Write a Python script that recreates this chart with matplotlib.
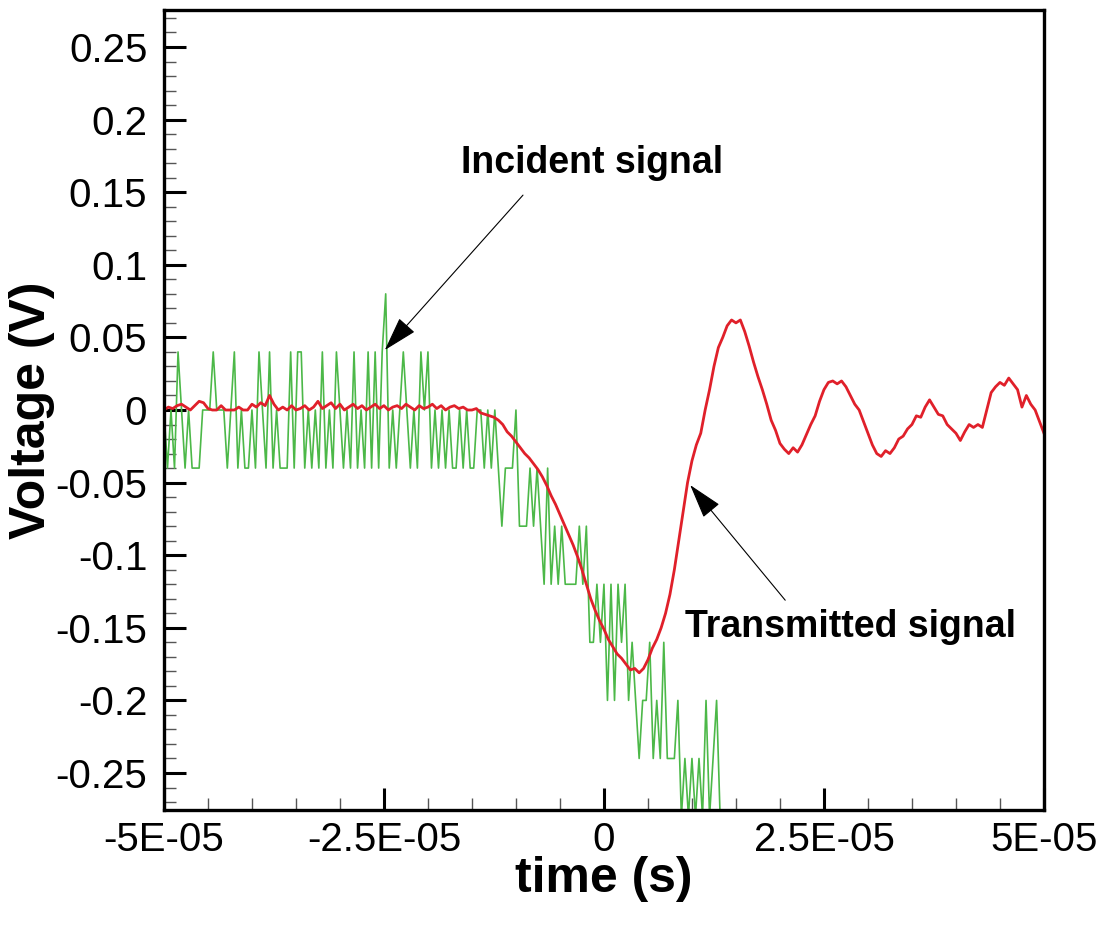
import numpy as np
import matplotlib
matplotlib.use("Agg")
from matplotlib import pyplot as plt
from matplotlib.ticker import MultipleLocator, FixedLocator, FixedFormatter

plt.rcParams['font.family'] = ['Liberation Sans', 'DejaVu Sans']
plt.rcParams['axes.unicode_minus'] = False

# transmitted signal, sampled every 0.5 us from -50 us
red_t0 = -50e-6
red_dt = 0.5e-6
transmitted = [
    0.000, 0.002, 0.001, 0.003, 0.004, 0.002, 0.000, 0.003, 0.006, 0.005,
    0.001, 0.000, 0.000, 0.003, 0.000, 0.000, 0.000, 0.002, 0.000, 0.000,
    0.004, 0.002, 0.005, 0.003, 0.010, 0.004, 0.000, 0.002, 0.000, 0.003,
    0.000, 0.001, 0.003, 0.000, 0.002, 0.006, 0.001, 0.003, 0.005, 0.001,
    0.004, 0.000, 0.002, 0.004, 0.001, 0.003, 0.000, 0.002, 0.004, 0.001,
    0.003, 0.000, 0.002, 0.003, 0.001, 0.004, 0.002, 0.000, 0.003, 0.001,
    0.002, 0.004, 0.001, 0.003, 0.000, 0.002, 0.003, 0.001, 0.002, 0.000,
    0.000, 0.001, -0.002, -0.003, -0.004, -0.005, -0.007, -0.010, -0.015, -0.018,
    -0.022, -0.026, -0.030, -0.033, -0.037, -0.041, -0.046, -0.052, -0.059, -0.065,
    -0.072, -0.079, -0.086, -0.093, -0.101, -0.110, -0.120, -0.130, -0.138, -0.145,
    -0.151, -0.158, -0.163, -0.168, -0.171, -0.175, -0.179, -0.178, -0.181, -0.178,
    -0.172, -0.164, -0.158, -0.150, -0.140, -0.127, -0.110, -0.090, -0.070, -0.050,
    -0.035, -0.024, -0.016, 0.000, 0.014, 0.030, 0.043, 0.050, 0.058, 0.062,
    0.060, 0.062, 0.054, 0.044, 0.033, 0.023, 0.014, 0.004, -0.007, -0.014,
    -0.023, -0.027, -0.030, -0.026, -0.029, -0.024, -0.017, -0.010, -0.004, 0.006,
    0.014, 0.019, 0.020, 0.018, 0.020, 0.016, 0.010, 0.004, 0.000, -0.008,
    -0.016, -0.024, -0.030, -0.032, -0.028, -0.030, -0.026, -0.020, -0.018, -0.013,
    -0.010, -0.004, -0.005, 0.002, 0.007, 0.002, -0.003, -0.004, -0.010, -0.013,
    -0.016, -0.021, -0.015, -0.010, -0.012, -0.010, -0.012, 0.000, 0.012, 0.016,
    0.019, 0.017, 0.022, 0.018, 0.014, 0.002, 0.010, 0.004, 0.000, -0.008,
    -0.016,
]

# incident signal (8-bit scope, 0.04 V steps), sampled every 0.4 us from -50 us
green_t0 = -50e-6
green_dt = 0.4e-6
incident = [
    0.0, -0.04, 0.0, -0.04, 0.04, 0.0, -0.04, 0.0, -0.04, -0.04,
    -0.04, 0.0, 0.0, 0.0, 0.04, 0.0, 0.0, 0.0, -0.04, 0.0,
    0.04, -0.04, 0.0, -0.04, -0.04, 0.0, -0.04, 0.04, 0.0, -0.04,
    0.04, -0.04, 0.0, -0.04, -0.04, -0.04, 0.04, -0.04, 0.04, 0.04,
    -0.04, 0.0, -0.04, 0.0, -0.04, 0.04, -0.04, 0.0, -0.04, 0.04,
    0.0, -0.04, 0.0, -0.04, 0.04, -0.04, 0.0, -0.04, 0.04, -0.04,
    0.04, -0.04, 0.04, 0.08, -0.04, 0.0, -0.04, 0.0, 0.04, 0.0,
    -0.04, 0.0, -0.04, 0.04, 0.0, 0.04, -0.04, 0.0, -0.04, 0.0,
    -0.04, 0.0, -0.04, -0.04, 0.0, -0.04, 0.0, -0.04, -0.04, 0.0,
    0.0, -0.04, 0.0, -0.04, 0.0, -0.04, -0.08, -0.04, -0.04, -0.04,
    0.0, -0.08, -0.08, -0.08, -0.04, -0.08, -0.04, -0.08, -0.12, -0.04,
    -0.12, -0.08, -0.12, -0.08, -0.12, -0.12, -0.12, -0.12, -0.08, -0.12,
    -0.08, -0.16, -0.16, -0.12, -0.16, -0.12, -0.2, -0.12, -0.2, -0.12,
    -0.16, -0.12, -0.2, -0.16, -0.2, -0.24, -0.2, -0.2, -0.16, -0.24,
    -0.2, -0.24, -0.16, -0.24, -0.24, -0.24, -0.2, -0.28, -0.24, -0.28,
    -0.24, -0.28, -0.24, -0.28, -0.2, -0.28, -0.24, -0.2, -0.28, -0.32,
    -0.28, -0.32, -0.32,
]

x_ticks = [-5e-5, -2.5e-5, 0, 2.5e-5, 5e-5]
x_tick_labels = ['-5E-05', '-2.5E-05', '0', '2.5E-05', '5E-05']
y_ticks = [0.25, 0.2, 0.15, 0.1, 0.05, 0, -0.05, -0.1, -0.15, -0.2, -0.25]
y_tick_labels = ['0.25', '0.2', '0.15', '0.1', '0.05', '0',
                 '-0.05', '-0.1', '-0.15', '-0.2', '-0.25']

t_red = red_t0 + red_dt * np.arange(len(transmitted))
t_green = green_t0 + green_dt * np.arange(len(incident))

fig = plt.figure(figsize=(11.1, 9.25), dpi=100)
ax = fig.add_axes([0.1477, 0.1243, 0.7928, 0.8649])

ax.plot(t_green, incident, color='#4cb848', lw=1.2)
ax.plot(t_red, transmitted, color='#e0202a', lw=2.0)

ax.set_xlim(-5e-5, 5e-5)
ax.set_ylim(-0.2755, 0.2755)

ax.xaxis.set_major_locator(FixedLocator(x_ticks))
ax.xaxis.set_major_formatter(FixedFormatter(x_tick_labels))
ax.yaxis.set_major_locator(FixedLocator(y_ticks))
ax.yaxis.set_major_formatter(FixedFormatter(y_tick_labels))
ax.xaxis.set_minor_locator(MultipleLocator(5e-6))
ax.yaxis.set_minor_locator(MultipleLocator(0.01))

ax.tick_params(which='both', direction='in', top=False, right=False)
ax.tick_params(which='major', length=16, width=2.2, labelsize=29, pad=12)
ax.tick_params(axis='x', which='major', pad=8)
ax.tick_params(which='minor', length=8.5, width=1.0, color='#555555')

for s in ax.spines.values():
    s.set_linewidth(2.4)

ax.set_xlabel('time (s)', fontsize=36, fontweight='bold', labelpad=-2)
ax.set_ylabel('Voltage (V)', fontsize=36, fontweight='bold', labelpad=0)

arrow = dict(arrowstyle='-|>,head_length=1.0,head_width=0.3',
             color='black', lw=0.8, mutation_scale=22,
             shrinkA=0, shrinkB=0)
ax.annotate('', xy=(-24.9e-6, 0.0413), xytext=(-9.2e-6, 0.148), arrowprops=arrow)
ax.annotate('', xy=(9.8e-6, -0.0517), xytext=(20.6e-6, -0.131), arrowprops=arrow)
ax.text(-1.36e-6, 0.170, 'Incident signal', fontsize=27, fontweight='bold',
        ha='center', va='center')
ax.text(28.07e-6, -0.1494, 'Transmitted signal', fontsize=27, fontweight='bold',
        ha='center', va='center')

fig.savefig('out.png', dpi=100)
